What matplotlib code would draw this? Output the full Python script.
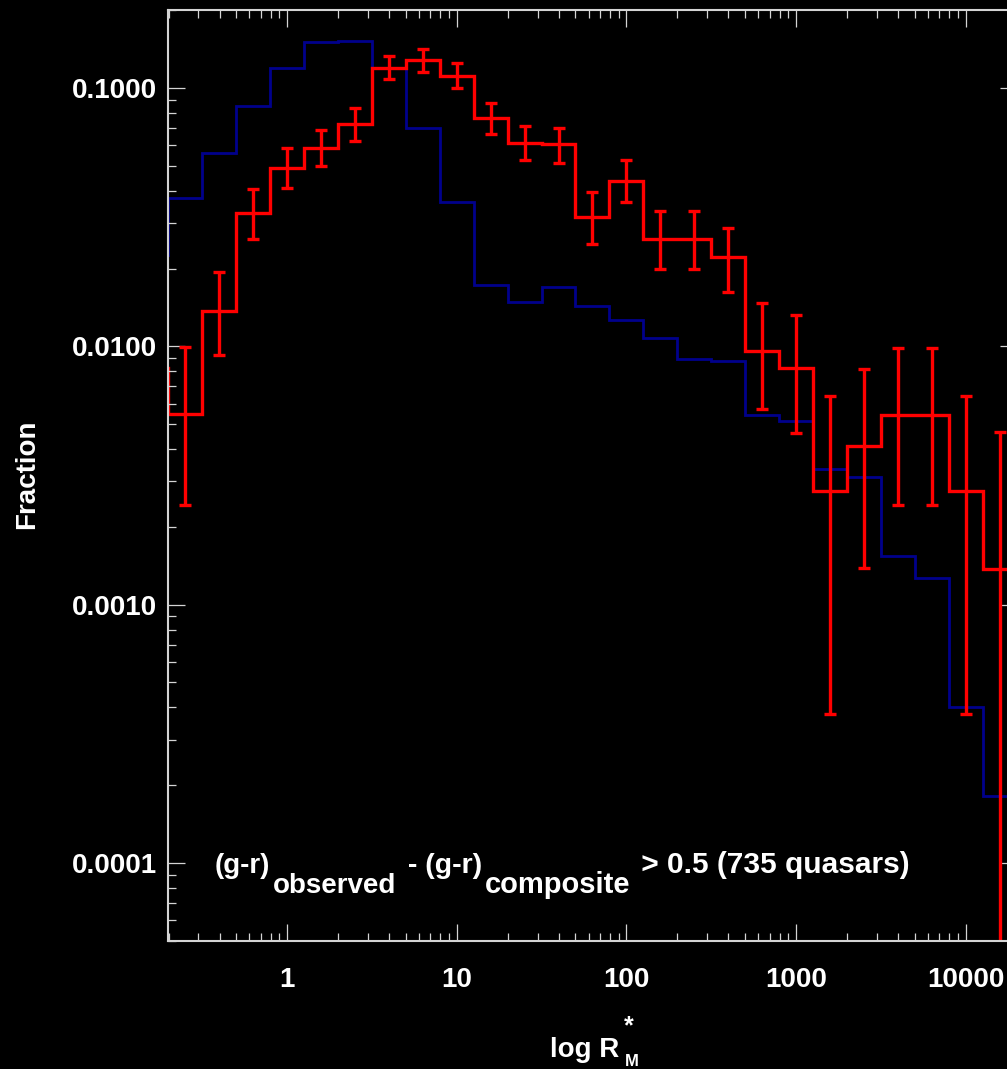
import numpy as np
import matplotlib
matplotlib.use("Agg")
import matplotlib.pyplot as plt
from matplotlib.ticker import FuncFormatter, LogLocator

# -- data --
# bin centres in log R*_M (0.2 dex wide)
log_centres = [-0.8, -0.6, -0.4, -0.2, 0.0, 0.2, 0.4, 0.6, 0.8, 1.0, 1.2, 1.4, 1.6,
               1.8, 2.0, 2.2, 2.4, 2.6, 2.8, 3.0, 3.2, 3.4, 3.6, 3.8, 4.0, 4.2]

# all quasars (blue)
frac_all = [0.0226, 0.0374, 0.0562, 0.0852, 0.120, 0.151, 0.152, 0.120, 0.0702,
            0.0361, 0.0173, 0.0149, 0.0170, 0.0143, 0.01266, 0.0108, 0.00892,
            0.00881, 0.00543, 0.00512, 0.00335, 0.00311, 0.00155, 0.00127,
            0.000402, 0.000181]

# red quasars, (g-r) excess > 0.5
frac_red = [0.00824, 0.00548, 0.01371, 0.0327, 0.0489, 0.0587, 0.0726, 0.120,
            0.128, 0.111, 0.0767, 0.0614, 0.0605, 0.0316, 0.0438, 0.0261, 0.0261,
            0.0221, 0.00962, 0.00824, 0.00275, 0.00413, 0.00543, 0.00543,
            0.00275, 0.00137]

# error bar ends for the red histogram (from the second bin on)
red_upper = [0.00990, 0.01948, 0.0407, 0.0587, 0.0688, 0.0834, 0.1333, 0.1416,
             0.1253, 0.0877, 0.0714, 0.0702, 0.0394, 0.0527, 0.0334, 0.0334,
             0.0286, 0.01477, 0.01324, 0.00640, 0.00817, 0.00984, 0.00984,
             0.00640, 0.00466]
red_lower = [0.00244, 0.00922, 0.0261, 0.0409, 0.0501, 0.0625, 0.108, 0.1157,
             0.1003, 0.0664, 0.0524, 0.0511, 0.0248, 0.0361, 0.0199, 0.0199,
             0.0163, 0.00573, 0.00462, 0.000379, 0.00139, 0.00244, 0.00244,
             0.000379, 1e-6]

x_ticks = [1, 10, 100, 1000, 10000]
y_ticks = [0.0001, 0.001, 0.01, 0.1]

# -- figure --
W, H = 1007, 1069
FONT = "Liberation Sans"
FG = "#d4d4d4"
plt.rcParams["font.family"] = [FONT, "DejaVu Sans"]
plt.rcParams["font.weight"] = "bold"

fig = plt.figure(figsize=(W / 100, H / 100), dpi=100, facecolor="black")
ax = fig.add_axes([168 / W, 1 - 940.8 / H, 848.7 / W, 930.6 / H], facecolor="black")

lc = np.array(log_centres)
edges = 10 ** np.append(lc - 0.1, lc[-1] + 0.1)
centres = 10 ** lc

ax.stairs(frac_all, edges, baseline=None, color="#00008c", lw=2.0)
ax.stairs(frac_red, edges, baseline=None, color="red", lw=2.4)

fr = np.array(frac_red[1:])
yerr = [fr - np.array(red_lower), np.array(red_upper) - fr]
ax.errorbar(centres[1:], fr, yerr=yerr, fmt="none", ecolor="red",
            elinewidth=2.4, capsize=4, capthick=2.4)

ax.set_xscale("log")
ax.set_yscale("log")
ax.set_xlim(10 ** -0.702, 20000)
ax.set_ylim(5e-5, 0.2)

ax.set_xticks(x_ticks)
ax.set_yticks(y_ticks)
ax.xaxis.set_minor_locator(LogLocator(base=10, subs=np.arange(2, 10)))
ax.yaxis.set_minor_locator(LogLocator(base=10, subs=np.arange(2, 10)))
ax.xaxis.set_major_formatter(FuncFormatter(lambda v, p: "%g" % v))
ax.yaxis.set_major_formatter(FuncFormatter(lambda v, p: "%.4f" % v))
ax.xaxis.set_minor_formatter(FuncFormatter(lambda v, p: ""))
ax.yaxis.set_minor_formatter(FuncFormatter(lambda v, p: ""))

ax.tick_params(which="both", direction="in", top=True, right=True, color=FG,
               labelcolor="white", labelsize=20)
ax.tick_params(which="major", length=12.2, width=0.9)
ax.tick_params(which="minor", length=5.8, width=0.9)
ax.tick_params(axis="x", which="major", pad=19)
ax.tick_params(axis="y", which="major", pad=8)
for lab in ax.get_xticklabels() + ax.get_yticklabels():
    lab.set_fontweight("bold")
for sp in ax.spines.values():
    sp.set_color(FG)
    sp.set_linewidth(1.5)

# axis titles
fig.text(27 / W, 1 - 474 / H, "Fraction", rotation=90, color="white",
         fontsize=20, fontweight="bold", ha="center", va="center")
fig.text(550 / W, 1 - 1057 / H, "log R", color="white", fontsize=20,
         fontweight="bold", ha="left", va="baseline")
fig.text(629 / W, 1 - 1026 / H, "*", color="white", fontsize=18,
         fontweight="bold", ha="center", va="center")
fig.text(625 / W, 0.0, "M", color="white", fontsize=12,
         fontweight="bold", ha="left", va="bottom")

# annotation with big IDL-style subscripts
pieces = [("(g-r)", 0, 20), ("observed", -20, 20), (" - (g-r)", 20, 20.5),
          ("composite", -20, 21), (" > 0.5 (735 quasars)", 20, 21.5)]
prev = fig.text(215 / W, 1 - 873 / H, pieces[0][0], color="white",
                fontsize=pieces[0][2], fontweight="bold", ha="left", va="baseline")
for txt, dy, size in pieces[1:]:
    prev = ax.annotate(txt, xy=(1, 0), xycoords=prev, xytext=(3, dy),
                       textcoords="offset pixels", color="white", fontsize=size,
                       fontweight="bold", ha="left", va="bottom")

fig.savefig("out.png", dpi=100, facecolor="black")
